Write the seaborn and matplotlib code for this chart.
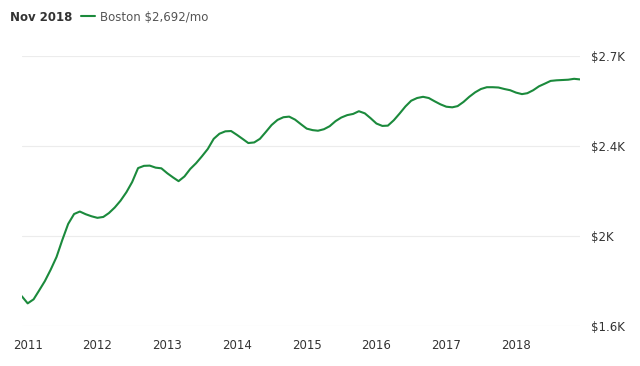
import numpy as np
import pandas as pd
import matplotlib
matplotlib.use("Agg")
import matplotlib.pyplot as plt
import seaborn as sns

# monthly rent, Boston, Dec 2010 .. Dec 2018
rent = [1733, 1701, 1719, 1757, 1800, 1850, 1907, 1982, 2054, 2098,
        2109, 2097, 2088, 2081, 2085, 2102, 2127, 2157, 2195, 2240,
        2302, 2312, 2313, 2304, 2301, 2279, 2260, 2244, 2265, 2298,
        2324, 2354, 2387, 2424, 2441, 2449, 2450, 2437, 2423, 2410,
        2412, 2424, 2447, 2470, 2487, 2496, 2498, 2488, 2473, 2458,
        2453, 2451, 2456, 2466, 2483, 2495, 2503, 2507, 2516, 2509,
        2493, 2475, 2467, 2468, 2486, 2508, 2532, 2551, 2560, 2564,
        2560, 2549, 2539, 2531, 2529, 2533, 2547, 2564, 2579, 2590,
        2596, 2596, 2595, 2590, 2586, 2578, 2573, 2576, 2586, 2599,
        2608, 2617, 2619, 2620, 2621, 2624, 2622]
dates = pd.date_range("2010-12-01", periods=len(rent), freq="MS")

years = [2011, 2012, 2013, 2014, 2015, 2016, 2017, 2018]
y_ticks = [1600, 2000, 2400, 2700]
y_labels = ["\\$1.6K", "\\$2K", "\\$2.4K", "\\$2.7K"]

df = pd.DataFrame({"date": dates, "rent": rent})

sns.set_style("white")
plt.rcParams["font.family"] = ["DejaVu Sans"]

fig = plt.figure(figsize=(6.4, 3.66), dpi=100)
ax = fig.add_axes([0.034, 0.109, 0.872, 0.738])

sns.lineplot(data=df, x="date", y="rent", color="#1b8a3c", linewidth=1.5, ax=ax)

# the y axis has evenly spaced ticks at uneven values
pos = list(range(len(y_ticks)))
ax.set_yscale("function", functions=(lambda v: np.interp(v, y_ticks, pos),
                                     lambda p: np.interp(p, pos, y_ticks)))
ax.set_ylim(y_ticks[0], y_ticks[-1])
ax.set_yticks(y_ticks)
ax.set_yticklabels(y_labels)
ax.yaxis.tick_right()
ax.set_xlim(pd.Timestamp("2010-12-01"), pd.Timestamp("2018-12-01"))
ax.set_xticks([pd.Timestamp(f"{y}-01-01") for y in years])
ax.set_xticklabels([str(y) for y in years])

ax.grid(axis="y", color="#ececec", linewidth=0.8)
ax.grid(axis="x", visible=False)
for s in ax.spines.values():
    s.set_visible(False)
ax.tick_params(axis="y", length=0, pad=8, labelsize=8.5, labelcolor="#333333")
ax.tick_params(axis="x", length=0, pad=9, labelsize=8.5, labelcolor="#333333")
ax.set_xlabel("")
ax.set_ylabel("")

# header: date + legend
fig.text(0.016, 0.953, "Nov 2018", fontsize=8.5, fontweight="bold", color="#333333", va="center")
fig.lines.append(plt.Line2D([0.127, 0.148], [0.955, 0.955], transform=fig.transFigure,
                            color="#1b8a3c", linewidth=1.5))
fig.text(0.156, 0.953, "Boston \\$2,692/mo", fontsize=8.5, color="#555555", va="center")

fig.savefig("out.png", dpi=100)
